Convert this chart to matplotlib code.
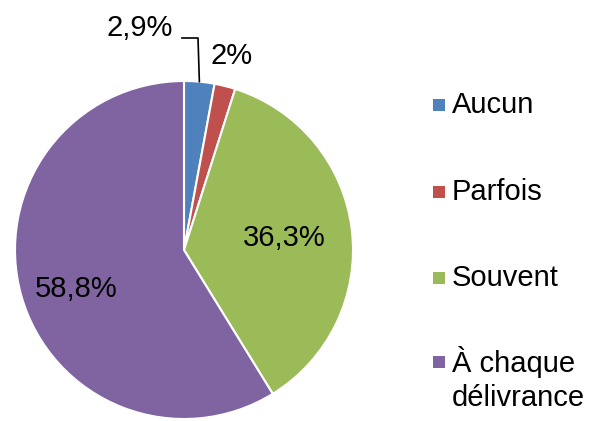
import matplotlib
matplotlib.use("Agg")
import matplotlib.pyplot as plt
import numpy as np
from matplotlib.patches import Rectangle

categories = ["Aucun", "Parfois", "Souvent", "À chaque\ndélivrance"]
values = [2.9, 2.0, 36.3, 58.8]
labels = ["2,9%", "2%", "36,3%", "58,8%"]
colors = ["#4F81BD", "#C0504D", "#9BBB59", "#8064A2"]

plt.rcParams['font.family'] = ['Liberation Sans', 'DejaVu Sans']
W, H = 590, 421
fig = plt.figure(figsize=(W/100, H/100), dpi=100)
ax = fig.add_axes([0, 0, 1, 1])

cx, cy, R = 184, H - 250, 169
wedges, _ = ax.pie(values, colors=colors, startangle=90, counterclock=False,
                   center=(cx, cy), radius=R, frame=True,
                   wedgeprops=dict(edgecolor='white', linewidth=1.5))
ax.set_xlim(0, W)
ax.set_ylim(0, H)
ax.set_aspect('equal')
ax.axis('off')

fs = 21
# inside labels
for w, lab, rf, da in zip(wedges[2:], labels[2:], [0.60, 0.68], [0, 4]):
    ang = np.deg2rad((w.theta1 + w.theta2) / 2 + da)
    ax.text(cx + rf * R * np.cos(ang), cy + rf * R * np.sin(ang), lab,
            ha='center', va='center', fontsize=fs)
# outside labels
ax.text(140, H - 28, labels[0], ha='center', va='center', fontsize=fs)
ax.text(232, H - 56, labels[1], ha='center', va='center', fontsize=fs)
w0 = wedges[0]
a0 = np.deg2rad((w0.theta1 + w0.theta2) / 2)
ex, ey = cx + R * np.cos(a0), cy + R * np.sin(a0)
ax.plot([182, 198, ex], [H - 38, H - 38, ey], color='black', lw=1.2)

# legend
ys = [105, 192, 278, 362]
for cat, col, y in zip(categories, colors, ys):
    ax.add_patch(Rectangle((433, H - y - 6), 12, 12, facecolor=col, edgecolor='none'))
    for i, line in enumerate(cat.split('\n')):
        ax.text(452, H - y - 36 * i, line, ha='left', va='center', fontsize=fs)
fig.savefig("out.png", dpi=100)
